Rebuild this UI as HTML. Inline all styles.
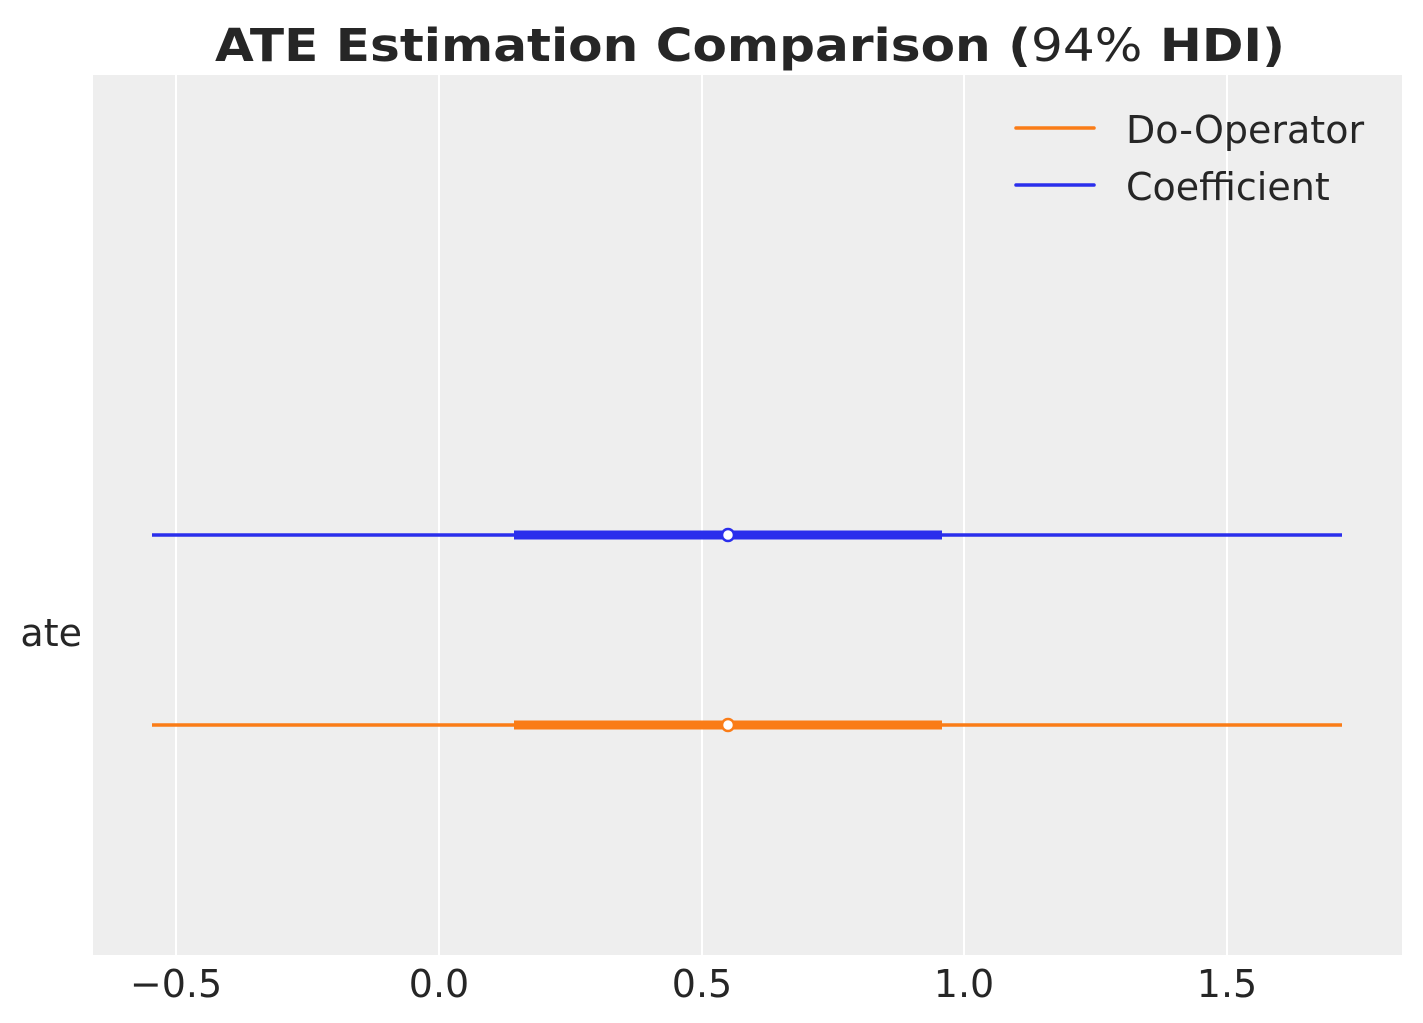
<!DOCTYPE html>
<html><head><meta charset="utf-8"><style>
html,body{margin:0;padding:0;background:#fff;}
svg{display:block;}
text{font-family:"DejaVu Sans","Liberation Sans",sans-serif;fill:#262626;}
</style></head><body>
<svg width="1423" height="1023" viewBox="0 0 1423 1023" xmlns="http://www.w3.org/2000/svg">
<rect x="0" y="0" width="1423" height="1023" fill="#fff"/>
<rect x="93" y="75" width="1309" height="880" fill="#eeeeee"/>
<g stroke="#fff" stroke-width="2">
<line x1="176" y1="75" x2="176" y2="955"/>
<line x1="439" y1="75" x2="439" y2="955"/>
<line x1="702" y1="75" x2="702" y2="955"/>
<line x1="964" y1="75" x2="964" y2="955"/>
<line x1="1227" y1="75" x2="1227" y2="955"/>
</g>
<text x="750" y="61" text-anchor="middle" font-size="45" font-weight="bold" textLength="1070" lengthAdjust="spacingAndGlyphs">ATE Estimation Comparison (<tspan font-weight="normal">94%</tspan> HDI)</text>
<line x1="152" y1="535" x2="1342" y2="535" stroke="#2a2eec" stroke-width="3.5"/>
<line x1="514" y1="535" x2="942" y2="535" stroke="#2a2eec" stroke-width="9"/>
<circle cx="728" cy="535" r="6" fill="#fff" stroke="#2a2eec" stroke-width="2.5"/>
<line x1="152" y1="725" x2="1342" y2="725" stroke="#fa7c17" stroke-width="3.5"/>
<line x1="514" y1="725" x2="942" y2="725" stroke="#fa7c17" stroke-width="9"/>
<circle cx="728" cy="725" r="6" fill="#fff" stroke="#fa7c17" stroke-width="2.5"/>
<line x1="1016" y1="128" x2="1094" y2="128" stroke="#fa7c17" stroke-width="3.5" stroke-linecap="round"/>
<line x1="1016" y1="185" x2="1094" y2="185" stroke="#2a2eec" stroke-width="3.5" stroke-linecap="round"/>
<text x="1126" y="143" font-size="38">Do-Operator</text>
<text x="1126" y="200" font-size="38">Coefficient</text>
<text x="82" y="646" font-size="38" text-anchor="end">ate</text>
<g font-size="38" text-anchor="middle">
<text x="176" y="997">−0.5</text>
<text x="439" y="997">0.0</text>
<text x="702" y="997">0.5</text>
<text x="964" y="997">1.0</text>
<text x="1227" y="997">1.5</text>
</g>
</svg>
</body></html>
